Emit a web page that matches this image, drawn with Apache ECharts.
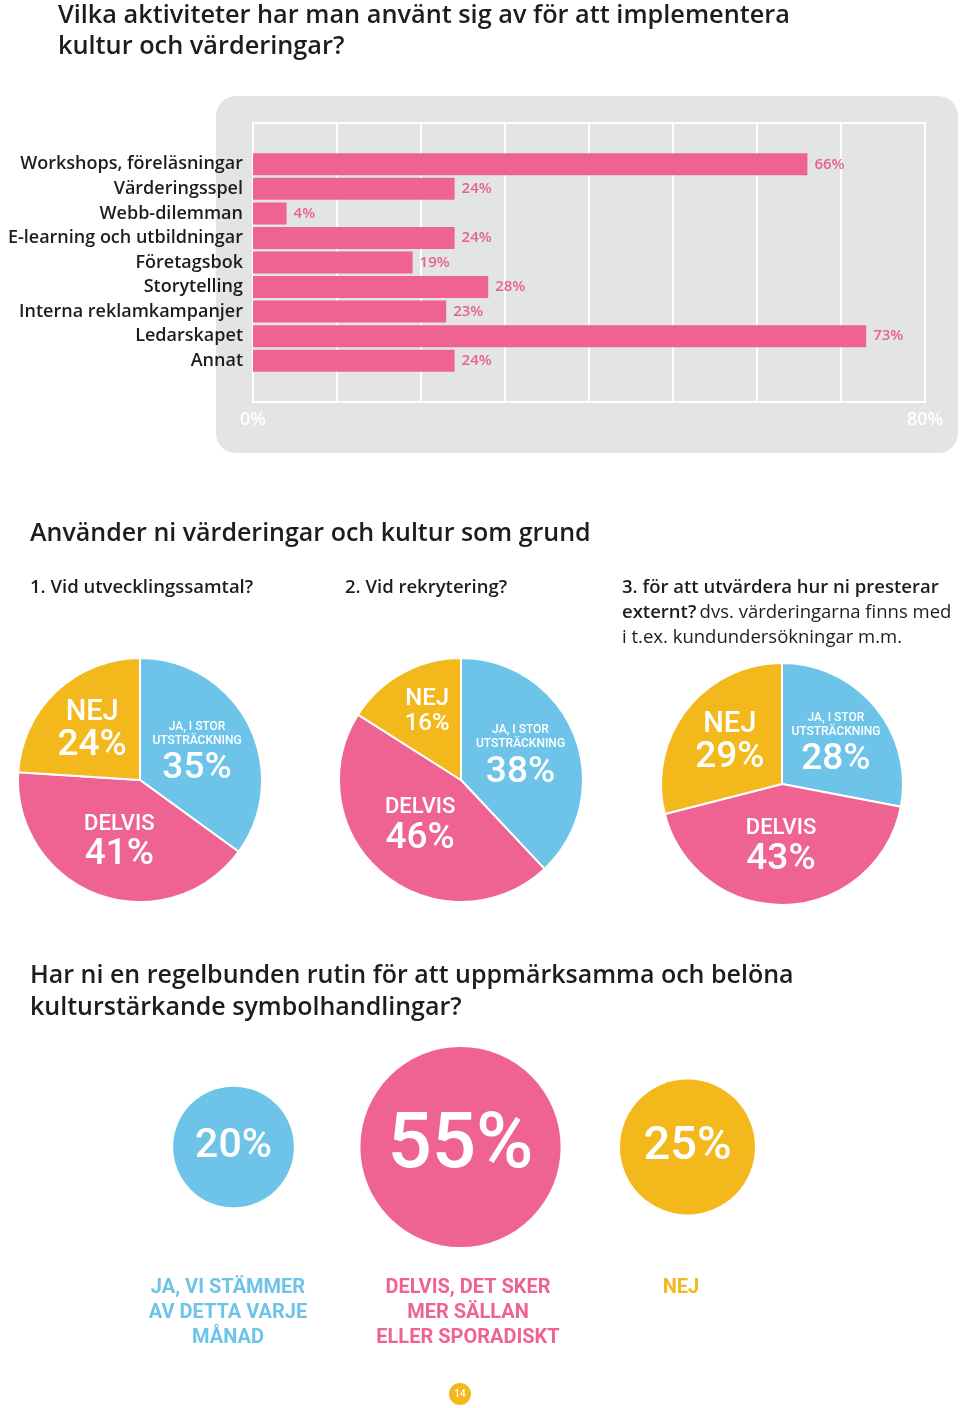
<!DOCTYPE html>
<html><head><meta charset="utf-8">
<script src="https://cdn.jsdelivr.net/npm/echarts@6/dist/echarts.min.js"></script>
<style>html,body{margin:0;padding:0;background:#fff}#c{width:960px;height:1408px}</style>
</head><body><div id="c"></div>
<script>
// ---- data ----
const barCategories = ['Workshops, föreläsningar','Värderingsspel','Webb-dilemman','E-learning och utbildningar','Företagsbok','Storytelling','Interna reklamkampanjer','Ledarskapet','Annat'];
const barValues = [66,24,4,24,19,28,23,73,24];
const axisMin = 0, axisMax = 80, axisStep = 10;

const pieQuestions = ['1. Vid utvecklingssamtal?','2. Vid rekrytering?'];
const pieNames = ['JA, I STOR UTSTRÄCKNING','DELVIS','NEJ'];
const pieUtveckling = [35,41,24];
const pieRekrytering = [38,46,16];
const pieExternt = [28,43,29];

const routineCategories = ['JA, VI STÄMMER\nAV DETTA VARJE\nMÅNAD','DELVIS, DET SKER\nMER SÄLLAN\nELLER SPORADISKT','NEJ'];
const routineValues = [20,55,25];

const titleTop = 'Vilka aktiviteter har man använt sig av för att implementera\nkultur och värderingar?';
const titleMid = 'Använder ni värderingar och kultur som grund';
const titleBottom = 'Har ni en regelbunden rutin för att uppmärksamma och belöna\nkulturstärkande symbolhandlingar?';
const pageNumber = '14';

// ---- styles ----
const PINK = '#ef6393', BLUE = '#6dc4e8', YELLOW = '#f3b81c';
const FONT = 'Roboto, "Liberation Sans", sans-serif';
const TFONT = '"Open Sans", Roboto, sans-serif';
const sliceColors = [BLUE, PINK, YELLOW];
const pieCenters = [[140,780],[461,780],[782,784]];
const pieRadius = [122,122,121];
// label nudges per pie [JA, DELVIS, NEJ]
const pieNudge = [
  [[0,4],[1,2],[-4,-3]],
  [[0,2],[0,-4],[-3,-12]],
  [[5,2],[-3,-1],[-2,-2]]
];
const routineColors = [BLUE, PINK, YELLOW];
const routineTextX = [228,468,681];

const chart = echarts.init(document.getElementById('c'));

function pieSeries(values, idx) {
  return {
    type: 'pie', center: pieCenters[idx], radius: [0, pieRadius[idx]],
    startAngle: 90, clockwise: true, silent: true, animation: false,
    itemStyle: { borderColor: '#fff', borderWidth: 2 },
    label: {
      show: true, position: 'inside', color: '#fff', fontFamily: FONT,
      formatter: p => {
        const v = p.value + '%';
        if (p.dataIndex === 0) return '{s|JA, I STOR}\n{s|UTSTRÄCKNING}\n{b|' + v + '}';
        if (p.dataIndex === 1) return '{d|DELVIS}\n{b2|' + v + '}';
        if (p.value < 20) return '{ns|NEJ}\n{ns|' + v + '}';
        return '{n|NEJ}\n{b2|' + v + '}';
      },
      rich: {
        s: { fontSize: 12, lineHeight: 14, color: '#fff', fontFamily: FONT, fontWeight: 500 },
        b: { fontSize: 37, lineHeight: 42, color: '#fff', fontFamily: FONT, fontWeight: 500 },
        b2: { fontSize: 37, lineHeight: 36, color: '#fff', fontFamily: FONT, fontWeight: 500 },
        d: { fontSize: 22, lineHeight: 26, color: '#fff', fontFamily: FONT, fontWeight: 500 },
        n: { fontSize: 29, lineHeight: 30, color: '#fff', fontFamily: FONT, fontWeight: 500 },
        ns: { fontSize: 24, lineHeight: 25, color: '#fff', fontFamily: FONT, fontWeight: 500 }
      }
    },
    labelLine: { show: false },
    labelLayout: p => ({ dx: pieNudge[idx][p.dataIndex][0], dy: pieNudge[idx][p.dataIndex][1] }),
    data: values.map((v, i) => ({ name: pieNames[i], value: v, itemStyle: { color: sliceColors[i] } }))
  };
}

const option = {
  backgroundColor: '#fff',
  animation: false,
  textStyle: { fontFamily: FONT },
  grid: [
    { left: 253, top: 123, width: 672, height: 279, show: true, borderColor: '#fff', borderWidth: 2, backgroundColor: 'transparent', containLabel: false },
    { left: 253, top: 152, width: 672, height: 221, containLabel: false },
    { left: 120, top: 1047, width: 681, height: 200, containLabel: false }
  ],
  xAxis: [
    { gridIndex: 0, type: 'value', min: axisMin, max: axisMax, interval: axisStep,
      axisLine: { show: false }, axisTick: { show: false },
      splitLine: { show: true, lineStyle: { color: '#fff', width: 2 } },
      axisLabel: { color: '#fff', fontSize: 18, fontWeight: 600, margin: 9, fontFamily: TFONT,
        formatter: v => (v === axisMin || v === axisMax) ? v + '%' : '' } },
    { gridIndex: 1, type: 'value', min: axisMin, max: axisMax, show: false },
    { gridIndex: 2, type: 'category', data: routineCategories, show: false }
  ],
  yAxis: [
    { gridIndex: 0, type: 'value', show: false, splitLine: { show: false } },
    { gridIndex: 1, type: 'category', data: barCategories, inverse: true,
      axisLine: { show: false }, axisTick: { show: false },
      axisLabel: { color: '#1d1d1b', fontSize: 18, fontWeight: 600, margin: 10, fontFamily: TFONT } },
    { gridIndex: 2, type: 'value', min: 0, max: 1, show: false }
  ],
  series: [
    { type: 'bar', xAxisIndex: 1, yAxisIndex: 1, data: barValues, barWidth: 22,
      itemStyle: { color: PINK }, silent: true,
      label: { show: true, position: 'right', distance: 7, color: '#e8628f', fontSize: 15, fontWeight: 600,
        fontFamily: TFONT, formatter: '{c}%' } },
    pieSeries(pieUtveckling, 0),
    pieSeries(pieRekrytering, 1),
    pieSeries(pieExternt, 2),
    { type: 'scatter', xAxisIndex: 2, yAxisIndex: 2, silent: true,
      data: routineValues.map((v, i) => ({ value: [i, 0.5], itemStyle: { color: routineColors[i], opacity: 1 } })),
      symbolSize: (val, p) => Math.sqrt(routineValues[p.dataIndex]) * 27,
      label: { show: true, position: 'inside', color: '#fff', fontFamily: FONT, fontWeight: 500,
        formatter: p => routineValues[p.dataIndex] + '%',
        fontSize: 40 },
      labelLayout: p => ({ fontSize: routineValues[p.dataIndex] > 40 ? 78 : (routineValues[p.dataIndex] > 22 ? 47 : 41) })
    }
  ],
  graphic: [
    { type: 'rect', z: -10, shape: { x: 216, y: 96, width: 742, height: 357, r: 20 }, style: { fill: '#e3e4e6' } },
    { type: 'text', left: 58, top: 0, style: { text: titleTop, font: '600 25.3px ' + TFONT, fill: '#1d1d1b', lineHeight: 31 } },
    { type: 'text', left: 30, top: 518, style: { text: titleMid, font: '600 25px ' + TFONT, fill: '#1d1d1b', lineHeight: 32 } },
    { type: 'text', left: 30, top: 575, style: { text: pieQuestions[0], font: '600 18.5px ' + TFONT, fill: '#1d1d1b', lineHeight: 25 } },
    { type: 'text', left: 345, top: 575, style: { text: pieQuestions[1], font: '600 18.5px ' + TFONT, fill: '#1d1d1b', lineHeight: 25 } },
    { type: 'text', left: 622, top: 578, style: {
        text: '{b|3. för att utvärdera hur ni presterar}\n{b|externt?} {r|dvs. värderingarna finns med}\n{r|i t.ex. kundundersökningar m.m.}',
        rich: { b: { font: '600 18.5px ' + TFONT, fill: '#1d1d1b', lineHeight: 25 },
                r: { font: '400 18.5px ' + TFONT, fill: '#1d1d1b', lineHeight: 25 } } } },
    { type: 'text', left: 30, top: 960, style: { text: titleBottom, font: '600 25px ' + TFONT, fill: '#1d1d1b', lineHeight: 32 } },
    ...routineCategories.map((t, i) => ({ type: 'text', x: routineTextX[i], y: 1275,
      style: { text: t, font: 'bold 20px ' + FONT, fill: routineColors[i], textAlign: 'center', lineHeight: 25 } })),
    { type: 'circle', shape: { cx: 460, cy: 1394, r: 11 }, style: { fill: YELLOW } },
    { type: 'text', x: 460, y: 1394, style: { text: pageNumber, font: '500 10px ' + FONT, fill: '#fff', textAlign: 'center', textVerticalAlign: 'middle' } }
  ]
};
chart.setOption(option);
</script></body></html>
